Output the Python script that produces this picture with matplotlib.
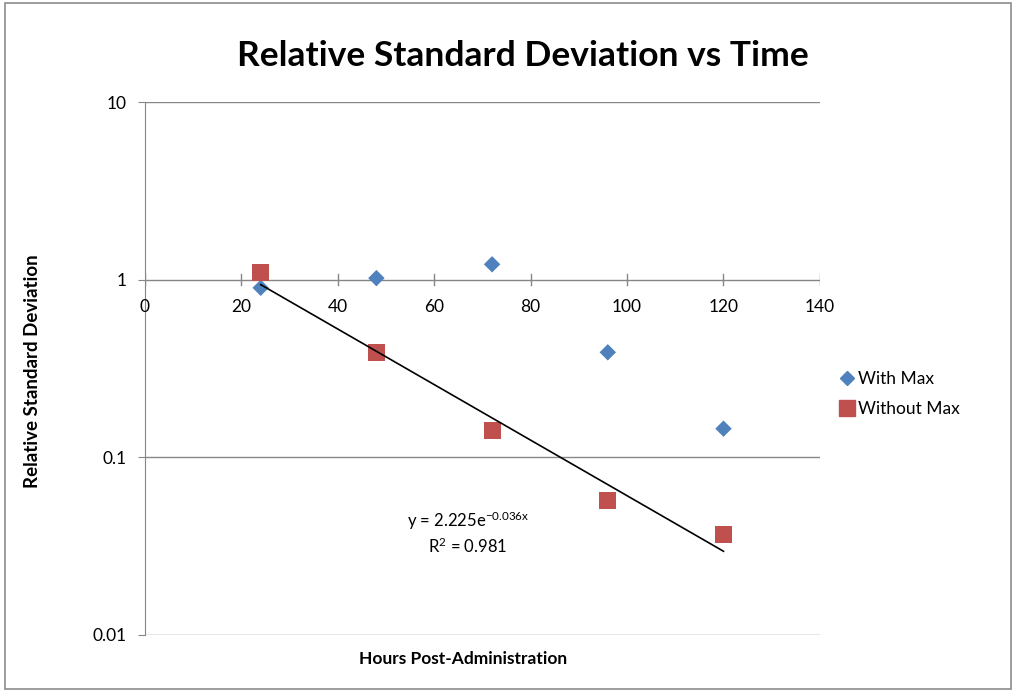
import numpy as np
import matplotlib
matplotlib.use("Agg")
import matplotlib.pyplot as plt
from matplotlib.lines import Line2D
from matplotlib.patches import Rectangle

hours = [24, 48, 72, 96, 120]
rsd_with_max = [0.90, 1.02, 1.22, 0.39, 0.145]
rsd_without_max = [1.10, 0.39, 0.142, 0.057, 0.037]

# exponential trendline fitted to the "Without Max" series
fit_a = 2.225
fit_b = -0.036
fit_r2 = 0.981

x_ticks = [0, 20, 40, 60, 80, 100, 120, 140]
y_ticks = [0.01, 0.1, 1, 10]

plt.rcParams['font.family'] = ['Lato', 'DejaVu Sans']
plt.rcParams['mathtext.default'] = 'regular'

GRID = '#868686'
BLUE = '#4F81BD'
RED = '#C0504D'


def plot():
    fig = plt.figure(figsize=(10.16, 6.92), dpi=100)
    fig.patches.append(Rectangle((0.005, 0.005), 0.99, 0.99, transform=fig.transFigure,
                                 fill=False, edgecolor='#8c8c8c', linewidth=1.2))
    ax = fig.add_axes([0.1427, 0.0824, 0.6643, 0.7702])

    ax.set_yscale('log')
    ax.set_ylim(0.01, 10)
    ax.set_xlim(0, 140)

    for v in y_ticks:
        ax.axhline(v, color=GRID, linewidth=1.0, zorder=1)

    ax.scatter(hours, rsd_with_max, marker='D', s=70, color=BLUE, zorder=3,
               label='With Max', edgecolors='none')
    ax.scatter(hours, rsd_without_max, marker='s', s=150, color=RED, zorder=3,
               label='Without Max', edgecolors='none')

    xs = np.array([hours[0], hours[-1]])
    ax.plot(xs, fit_a * np.exp(fit_b * xs), color='black', linewidth=1.2, zorder=4)

    ax.text(67, 0.044, f'y = {fit_a}e$^{{{fit_b}x}}$', ha='center', va='center',
            fontsize=12)
    ax.text(67, 0.0315, f'R$^2$ = {fit_r2}', ha='center', va='center', fontsize=12)

    # x axis crosses at y = 1
    for side in ['top', 'right', 'bottom']:
        ax.spines[side].set_visible(False)
    ax.spines['left'].set_color(GRID)
    ax.spines['left'].set_position(('data', 0))
    ax.set_yticks(y_ticks)
    ax.set_yticklabels(['0.01', '0.1', '1', '10'])
    ax.yaxis.set_minor_locator(matplotlib.ticker.NullLocator())
    ax.tick_params(axis='y', length=5, color=GRID, labelsize=12.5, pad=8)

    ax.set_xticks([])
    for x in x_ticks:
        ax.plot([x, x], [0.93, 1.08], color=GRID, linewidth=1.0, zorder=2)
        ax.text(x, 0.70, str(x), ha='center', va='center', fontsize=12.5)

    ax.set_xlabel('Hours Post-Administration', fontsize=12.5, fontweight='bold')
    ax.xaxis.set_label_coords(0.471, -0.03)
    ax.set_ylabel('Relative Standard Deviation', fontsize=13.5, fontweight='bold')
    ax.yaxis.set_label_coords(-0.154, 0.495)

    fig.text(0.515, 0.919, 'Relative Standard Deviation vs Time', ha='center',
             va='center', fontsize=25.5, fontweight='bold')

    handles = [
        Line2D([], [], marker='D', linestyle='none', color=BLUE, markersize=7),
        Line2D([], [], marker='s', linestyle='none', color=RED, markersize=11),
    ]
    fig.legend(handles, ['With Max', 'Without Max'], loc='center left',
               bbox_to_anchor=(0.808, 0.43), frameon=False, fontsize=12.5,
               handletextpad=0.05, labelspacing=0.8, handlelength=1.2)

    fig.savefig('out.png', dpi=100)


if __name__ == '__main__':
    plot()
